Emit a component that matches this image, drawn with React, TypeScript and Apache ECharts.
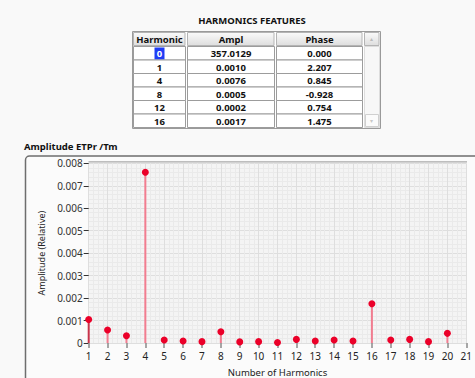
import React, { useEffect, useRef } from "react";
import * as echarts from "echarts";

const harmonics = [1, 2, 3, 4, 5, 6, 7, 8, 9, 10, 11, 12, 13, 14, 15, 16, 17, 18, 19, 20];
const amplitudes = [
  0.00105, 0.00058, 0.00032, 0.0076, 0.00013, 0.00009, 0.00006, 0.0005, 0.00005, 0.00006,
  0.00002, 0.00016, 0.00009, 0.00013, 0.00009, 0.00175, 0.00013, 0.00016, 0.00006, 0.00043,
];
const tableHeaders = ["Harmonic", "Ampl", "Phase"];
const tableHarmonic = ["0", "1", "4", "8", "12", "16"];
const tableAmpl = ["357.0129", "0.0010", "0.0076", "0.0005", "0.0002", "0.0017"];
const tablePhase = ["0.000", "2.207", "0.845", "-0.928", "0.754", "1.475"];

const FONT = "Noto Sans";

function buildTable(): any[] {
  const els: any[] = [];
  const colX = [133, 187, 276, 364];
  const colW = [53, 88, 87, 16];
  const tTop = 32;
  const headH = 14;
  const rowH = 13.5;
  const nRows = tableHarmonic.length;
  const tBottom = tTop + headH + rowH * nRows + 1;
  els.push({
    type: "text",
    x: 252,
    y: 20,
    style: { text: "HARMONICS FEATURES", font: `bold 9.5px "${FONT}"`, fill: "#111", align: "center", verticalAlign: "middle" },
  });
  els.push({
    type: "rect",
    shape: { x: 132.5, y: tTop - 0.5, width: 248, height: tBottom - tTop + 1 },
    style: { fill: "#ffffff", stroke: "#9a9a9a", lineWidth: 1 },
  });
  const headGrad = new echarts.graphic.LinearGradient(0, 0, 0, 1, [
    { offset: 0, color: "#fafafa" },
    { offset: 1, color: "#dedede" },
  ]);
  for (let c = 0; c < 4; c++) {
    els.push({
      type: "rect",
      shape: { x: colX[c] + 0.5, y: tTop + 0.5, width: colW[c] - 1.5, height: headH - 1 },
      style: { fill: headGrad, stroke: "#b4b4b4", lineWidth: 1 },
    });
    if (c < 3) {
      els.push({
        type: "text",
        x: colX[c] + colW[c] / 2,
        y: tTop + headH / 2 + 0.5,
        style: { text: tableHeaders[c], font: `bold 9.5px "${FONT}"`, fill: "#111", align: "center", verticalAlign: "middle" },
      });
    }
  }
  els.push({
    type: "text",
    x: colX[3] + colW[3] / 2 - 0.5,
    y: tTop + headH / 2,
    style: { text: "▴", font: `6px "${FONT}"`, fill: "#bbbbbb", align: "center", verticalAlign: "middle" },
  });
  for (let r = 0; r < nRows; r++) {
    const y0 = tTop + headH + r * rowH;
    for (let c = 0; c < 3; c++) {
      els.push({
        type: "rect",
        shape: { x: colX[c] + 0.5, y: y0 + 0.5, width: colW[c] - 1, height: rowH },
        style: { fill: "#ffffff", stroke: "#9c9c9c", lineWidth: 1 },
      });
    }
    const vals = [tableHarmonic[r], tableAmpl[r], tablePhase[r]];
    for (let c = 0; c < 3; c++) {
      const cx = colX[c] + colW[c] / 2;
      const cy = y0 + rowH / 2 + 1;
      if (r === 0 && c === 0) {
        els.push({
          type: "rect",
          shape: { x: cx - 5, y: y0 + 1.5, width: 10, height: rowH - 1.5 },
          style: { fill: "#1f3cf5" },
        });
      }
      els.push({
        type: "text",
        x: cx,
        y: cy,
        style: {
          text: vals[c],
          font: `bold 9.5px "${FONT}"`,
          fill: r === 0 && c === 0 ? "#ffffff" : "#111",
          align: "center",
          verticalAlign: "middle",
        },
      });
    }
  }
  const sy = tTop + headH;
  els.push({
    type: "rect",
    shape: { x: colX[3] + 0.5, y: sy + 0.5, width: colW[3] - 1, height: rowH * nRows },
    style: { fill: "#f7f7f7", stroke: "#dddddd", lineWidth: 1 },
  });
  els.push({
    type: "rect",
    shape: { x: colX[3] + 1.5, y: sy + rowH * (nRows - 1) + 1, width: colW[3] - 3, height: rowH - 1.5 },
    style: { fill: "#fbfbfb", stroke: "#d0d0d0", lineWidth: 1 },
  });
  els.push({
    type: "text",
    x: colX[3] + colW[3] / 2 - 0.5,
    y: sy + rowH * (nRows - 0.5) + 1,
    style: { text: "▾", font: `6px "${FONT}"`, fill: "#c8c8c8", align: "center", verticalAlign: "middle" },
  });
  return els;
}

export default function App() {
  const ref = useRef<HTMLDivElement>(null);
  useEffect(() => {
    if (!ref.current) return;
    const chart = echarts.init(ref.current, undefined, { renderer: "svg" });
    const points = harmonics.map((h, i) => [h, amplitudes[i]]);
    chart.setOption({
      animation: false,
      backgroundColor: "#f9f9f9",
      textStyle: { fontFamily: FONT },
      graphic: [
        ...buildTable(),
        {
          type: "text",
          x: 24,
          y: 146,
          style: { text: "Amplitude ETPr /Tm", font: `bold 9.5px "${FONT}"`, fill: "#111", verticalAlign: "middle" },
        },
        {
          type: "rect",
          z: -10,
          shape: { x: 25.5, y: 156, width: 470, height: 240, r: 4 },
          style: { fill: "#fbfbfb", stroke: "#6e6e6e", lineWidth: 1.5 },
        },
        {
          type: "line",
          shape: { x1: 88.5, y1: 161.8, x2: 467, y2: 161.8 },
          style: { stroke: "#a8a8a8", lineWidth: 1.2 },
        },
      ],
      grid: {
        left: 88.7,
        right: 8.3,
        top: 163.3,
        bottom: 30.7,
        show: true,
        backgroundColor: "#f4f4f4",
        borderWidth: 0,
      },
      xAxis: {
        type: "value",
        min: 1,
        max: 21,
        interval: 1,
        name: "Number of Harmonics",
        nameLocation: "middle",
        nameGap: 24,
        nameTextStyle: { fontSize: 9.5, color: "#222", fontFamily: FONT },
        axisLine: { show: false },
        axisTick: { show: true, length: 5, lineStyle: { color: "#8a8a8a", width: 1.5 } },
        axisLabel: { fontSize: 10, color: "#222", margin: 8, fontFamily: FONT },
        splitLine: { show: true, lineStyle: { color: "#dedede", width: 1 } },
        minorTick: { show: false, splitNumber: 4 },
        minorSplitLine: { show: true, lineStyle: { color: "#eaeaea", width: 1 } },
      },
      yAxis: {
        type: "value",
        min: 0,
        max: 0.008,
        interval: 0.001,
        name: "Amplitude (Relative)",
        nameLocation: "middle",
        nameRotate: 90,
        nameGap: 42,
        nameTextStyle: { fontSize: 9, color: "#222", fontFamily: FONT },
        axisLine: { show: false },
        axisTick: { show: true, length: 5, lineStyle: { color: "#333", width: 1 } },
        axisLabel: {
          fontSize: 10,
          color: "#333",
          margin: 6,
          fontFamily: FONT,
          formatter: (v: number) => (v === 0 ? "0" : v.toFixed(3)),
        },
        splitLine: { show: true, lineStyle: { color: "#dedede", width: 1 } },
        minorTick: { show: false, splitNumber: 5 },
        minorSplitLine: { show: true, lineStyle: { color: "#eaeaea", width: 1 } },
      },
      series: [
        {
          type: "bar",
          data: points,
          barWidth: 2,
          itemStyle: {
            color: (p: any) => (p.dataIndex === 0 ? "#c8344c" : "#f27d90"),
          },
          z: 2,
        },
        {
          type: "scatter",
          data: points,
          symbol: "circle",
          symbolSize: 7,
          itemStyle: { color: "#eb0029", opacity: 1 },
          z: 3,
        },
      ],
    });
    return () => chart.dispose();
  }, []);
  return <div ref={ref} style={{ position: "absolute", left: 0, top: 0, width: 475, height: 378 }} />;
}
